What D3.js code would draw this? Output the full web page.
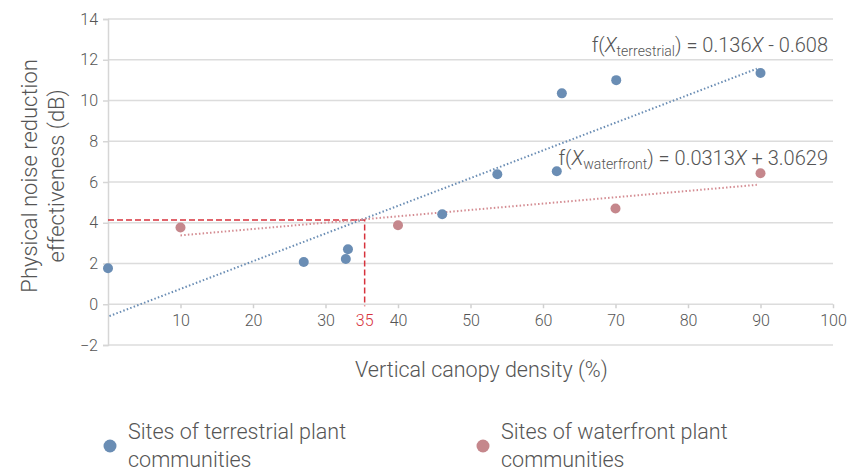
<!doctype html>
<html lang="en">
  <head>
    <meta charset="utf-8">
    <title>Noise reduction vs canopy density</title>
    <script src="https://d3js.org/d3.v7.min.js"></script>
    <style>
      body { margin: 0; background: #fff; }
      svg text { font-family: Roboto, "Noto Sans", sans-serif; font-weight: 300; fill: #555; }
    </style>
  </head>
  <body>

    <div id="my_dataviz"></div>

    <script>

      // terrestrial plant community sites
      var terrestrialX = [0, 27, 32.8, 33.1, 46.1, 53.7, 61.9, 62.6, 70.1, 90];
      var terrestrialY = [1.77, 2.07, 2.22, 2.7, 4.42, 6.38, 6.53, 10.35, 11.0, 11.35];

      // waterfront plant community sites
      var waterfrontX = [10, 40, 70, 90];
      var waterfrontY = [3.77, 3.88, 4.7, 6.43];

      // fitted lines, end points (x, y)
      var terrestrialFitX = [0.2, 89.5];
      var terrestrialFitY = [-0.58, 11.56];
      var waterfrontFitX = [10, 89.5];
      var waterfrontFitY = [3.38, 5.86];

      // crossing point marked with red dashes
      var crossX = 35.4;
      var crossY = 4.13;

      var xTicks = [10, 20, 30, 40, 50, 60, 70, 80, 90, 100];
      var yTicks = [-2, 0, 2, 4, 6, 8, 10, 12, 14];

      var blue = "#6a8db4", pink = "#c5878c", red = "#d7323c";

      var margin = {top: 19, right: 29, bottom: 127, left: 108},
          width = 862 - margin.left - margin.right,
          height = 472 - margin.top - margin.bottom;

      var svg = d3.select("#my_dataviz")
        .append("svg")
          .attr("width", 862)
          .attr("height", 472)
        .append("g")
          .attr("transform", "translate(" + margin.left + "," + margin.top + ")");

      var x = d3.scaleLinear().domain([0, 100]).range([0, width]);
      var y = d3.scaleLinear().domain([-2, 14]).range([height, 0]);

      // grid lines
      svg.append("g")
        .selectAll("line")
        .data(yTicks)
        .enter().append("line")
          .attr("x1", 0).attr("x2", width)
          .attr("y1", function(d) { return y(d); })
          .attr("y2", function(d) { return y(d); })
          .attr("stroke", "#dcdcdc")
          .attr("stroke-width", 1.5);

      // y axis
      var yAxis = svg.append("g")
        .call(d3.axisLeft(y).tickValues(yTicks).tickSize(5).tickFormat(d3.format("")).tickPadding(5));
      yAxis.select(".domain").attr("stroke", "#d6d6d6").attr("stroke-width", 1.5);
      yAxis.selectAll(".tick line").attr("stroke", "#d6d6d6").attr("stroke-width", 1.5);
      yAxis.selectAll(".tick text").attr("font-size", 16).attr("fill", "#585858")
        .text(function(d) { return d < 0 ? "\u2212" + Math.abs(d) : d; });

      // x axis on the zero line
      var xAxis = svg.append("g")
        .attr("transform", "translate(0," + y(0) + ")")
        .call(d3.axisBottom(x).tickValues(xTicks).tickSize(4).tickPadding(6));
      xAxis.select(".domain").remove();
      xAxis.selectAll(".tick line").attr("stroke", "#d0d0d0").attr("stroke-width", 1.5);
      xAxis.selectAll(".tick text").attr("font-size", 16).attr("fill", "#585858");

      svg.append("text")
        .attr("x", x(crossX))
        .attr("y", y(0) + 10)
        .attr("dy", "0.71em")
        .attr("text-anchor", "middle")
        .attr("font-size", 16)
        .style("fill", red)
        .text("35");

      // red dashed guide
      svg.append("path")
        .attr("d", d3.line()([[x(0), y(crossY)], [x(crossX), y(crossY)], [x(crossX), y(0) + 2]]))
        .attr("fill", "none")
        .attr("stroke", red)
        .attr("stroke-width", 1.5)
        .attr("stroke-dasharray", "6,3");

      // fitted lines
      function fitLine(xs, ys, color) {
        svg.append("path")
          .datum(d3.zip(xs, ys))
          .attr("fill", "none")
          .attr("stroke", color)
          .attr("stroke-width", 2)
          .attr("stroke-dasharray", "1.5,2.2")
          .attr("d", d3.line()
            .x(function(d) { return x(d[0]); })
            .y(function(d) { return y(d[1]); }));
      }
      fitLine(terrestrialFitX, terrestrialFitY, blue);
      fitLine(waterfrontFitX, waterfrontFitY, "#d48c92");

      // points
      function dots(xs, ys, color) {
        svg.append("g")
          .selectAll("circle")
          .data(d3.zip(xs, ys))
          .enter().append("circle")
            .attr("cx", function(d) { return x(d[0]); })
            .attr("cy", function(d) { return y(d[1]); })
            .attr("r", 5)
            .attr("fill", color);
      }
      dots(terrestrialX, terrestrialY, blue);
      dots(waterfrontX, waterfrontY, pink);

      // equations
      function equation(yPos, sub, rest) {
        var t = svg.append("text")
          .attr("x", x(100) - 5)
          .attr("y", yPos)
          .attr("text-anchor", "end")
          .attr("font-size", 20);
        t.append("tspan").text("f(");
        t.append("tspan").attr("font-style", "italic").text("X");
        t.append("tspan").attr("font-size", 14).attr("dy", 4).text(sub);
        t.append("tspan").attr("dy", -4).text(") = " + rest[0]);
        t.append("tspan").attr("font-style", "italic").text("X");
        t.append("tspan").text(rest[1]);
      }
      equation(33, "terrestrial", ["0.136", " - 0.608"]);
      equation(146, "waterfront", ["0.0313", " + 3.0629"]);

      // axis titles
      svg.append("text")
        .attr("x", x(51.5))
        .attr("y", height + 32)
        .attr("text-anchor", "middle")
        .attr("font-size", 21.5)
        .text("Vertical canopy density (%)");

      var yTitle = svg.append("text")
        .attr("transform", "translate(" + (-71) + "," + y(6.3) + ") rotate(-90)")
        .attr("text-anchor", "middle")
        .attr("font-size", 22);
      yTitle.append("tspan").attr("x", 0).attr("dy", 0).text("Physical noise reduction");
      yTitle.append("tspan").attr("x", 0).attr("dy", 27).text("effectiveness (dB)");

      // legend
      var legend = [
        {color: blue, lines: ["Sites of terrestrial plant", "communities"], x: 2},
        {color: pink, lines: ["Sites of waterfront plant", "communities"], x: 375}
      ];
      legend.forEach(function(l) {
        var g = svg.append("g").attr("transform", "translate(" + l.x + "," + (height + 101) + ")");
        g.append("circle").attr("cx", 0).attr("cy", 0).attr("r", 6.5).attr("fill", l.color);
        var t = g.append("text").attr("font-size", 21.5);
        t.append("tspan").attr("x", 18).attr("y", -7).text(l.lines[0]);
        t.append("tspan").attr("x", 18).attr("y", 21).text(l.lines[1]);
      });

    </script>

</body>
</html>
